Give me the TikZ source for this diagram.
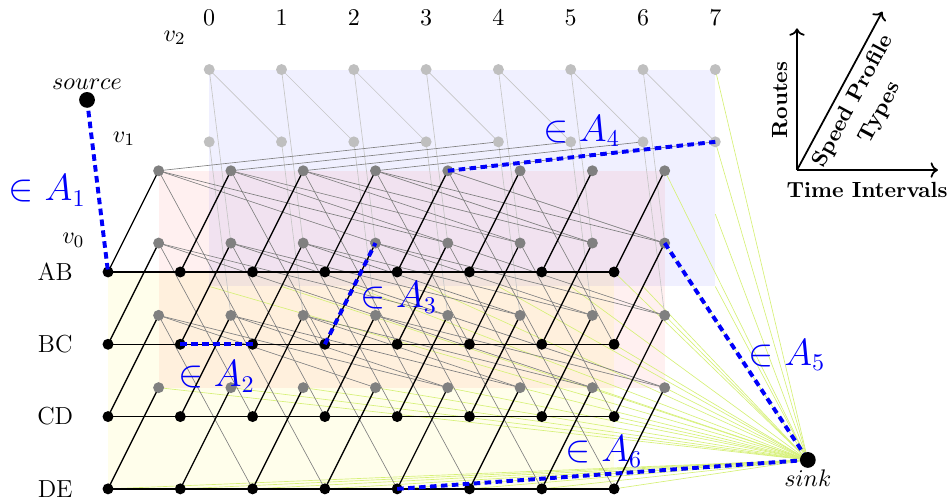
\documentclass[tikz,border=0pt]{standalone}
\usepackage{amssymb,amsmath}
\usepackage{tikz}
\usetikzlibrary{calc}
\usetikzlibrary{arrows.meta}
\definecolor{sinkline}{RGB}{214,240,120}
\definecolor{arcblue}{RGB}{0,0,250}

\begin{document}
\begin{tikzpicture}[x=1.16cm,y=1.16cm,
    every node/.style={font=\fontsize{11.25}{13.5}\selectfont},
    thinarc/.style={line width=0.3pt},
    dasharc/.style={line width=1.8pt,arcblue,dash pattern=on 3pt off 2pt},
    arclabel/.style={arcblue,font=\fontsize{16.3}{19}\selectfont},
    axislabel/.style={font=\normalsize\bfseries}]
   \useasboundingbox (-1.494,-3.181) rectangle (11.605,3.762);

   % knoten: route \rt, speed profile \sv, zeit \tm
   \foreach \rt in {0,...,3}
    \foreach \sv in {0,1,2}
     \foreach \tm in {0,...,7}
      \coordinate (n\rt\sv\tm) at ({\tm+0.7*\sv},{-\rt+1.4*\sv});
   \path
    (-0.29,2.38) coordinate (source)
    (9.68,-2.6) coordinate (sink);

    % ebenen
    \fill[blue,fill opacity=0.06] (n020) rectangle (n327);
    \fill[red,fill opacity=0.06] (n010) rectangle (n317);
    \fill[yellow,fill opacity=0.08] (n000) rectangle (n307);

    % kanten zur senke
    \foreach \sv in {0,1,2} {
     \foreach \tm in {0,...,7}
      \draw[thinarc,sinkline] (n3\sv\tm) -- (sink);
     \foreach \rt in {0,1,2}
      \draw[thinarc,sinkline] (n\rt\sv7) -- (sink);
    }

    % kanten aus v2
    \foreach \tm [evaluate=\tm as \nt using int(\tm+1)] in {0,...,6} {
     \draw[thinarc,gray!45] (n02\tm) -- (n12\nt);
     \draw[thinarc,gray!45] (n02\tm) -- (n11\nt);
     \draw[thinarc,gray!45] (n12\tm) -- (n21\nt);
    }

    % kanten aus v1
    \foreach \rt [evaluate=\rt as \nr using int(\rt+1)] in {0,1,2} {
     \foreach \tm [evaluate=\tm as \nt using int(\tm+2)] in {0,...,5}
      \draw[thinarc,gray] (n\rt1\tm) -- (n\nr0\nt);
     \foreach \tm [evaluate=\tm as \nt using int(\tm+3)] in {0,...,4}
      \draw[thinarc,gray] (n\rt1\tm) -- (n\nr1\nt);
     \foreach \tm [evaluate=\tm as \nt using int(\tm+4)] in {0,...,3}
      \draw[thinarc,gray] (n\rt1\tm) -- (n\nr1\nt);
    }
    \foreach \tm [evaluate=\tm as \nt using int(\tm+3)] in {0,...,4}
     \draw[thinarc,gray] (n01\tm) -- (n12\nt);

    % warten und beschleunigen in v0
    \foreach \rt in {0,...,3} {
     \draw[semithick] (n\rt00) -- (n\rt07);
     \foreach \tm in {0,...,7}
      \draw[semithick] (n\rt0\tm) -- (n\rt1\tm);
    }

    % punkte
    \foreach \rt in {0,1}
     \foreach \tm in {0,...,7}
      \fill[gray!50] (n\rt2\tm) circle (2.5pt);
    \foreach \rt in {0,...,3}
     \foreach \tm in {0,...,7} {
      \fill[gray] (n\rt1\tm) circle (2.5pt);
      \fill[black] (n\rt0\tm) circle (2.5pt);
     }

    % blaue kanten
    \draw[dasharc] (source) -- (n000);
    \draw[dasharc] (n101) -- (n102);
    \draw[dasharc] (n103) -- (n113);
    \draw[dasharc] (n014) -- (n127);
    \draw[dasharc] (n117) -- (sink);
    \draw[dasharc] (n304) -- (sink);

    \fill (source) circle (3.6pt);
    \fill (sink) circle (3.6pt);
    \node[above=1pt] (srclab) at (source) {$source$};
    \node[below=1pt] (sinklab) at (sink) {$sink$};

    % beschriftung
    \foreach \rt/\name in {0/AB,1/BC,2/CD,3/DE}
     \node (route\rt) at (-0.73,-\rt) {\name};
    \foreach \tm in {0,...,7}
     \node (time\tm) at ({\tm+1.4},3.51) {$\tm$};
    \foreach \sv in {0,1,2}
     \node (speed\sv) at ({-0.48+0.7*\sv},{0.44+1.4*\sv}) {$v_{\sv}$};

    \node[arclabel] (a1) at (-0.84,1.13) {$\in A_1$};
    \node[arclabel] (a2) at (1.50,-1.45) {$\in A_2$};
    \node[arclabel] (a3) at (4.02,-0.35) {$\in A_3$};
    \node[arclabel] (a4) at (6.55,1.95) {$\in A_4$};
    \node[arclabel] (a5) at (9.39,-1.15) {$\in A_5$};
    \node[arclabel] (a6) at (6.86,-2.48) {$\in A_6$};

    % achsen
    \path
     (9.53,1.41) coordinate (ax0)
     (9.53,3.37) coordinate (axR)
     (11.48,1.41) coordinate (axT)
     (10.71,3.60) coordinate (axS);
    \draw[thick,->] (ax0) -- (axR);
    \draw[thick,->] (ax0) -- (axT);
    \draw[thick,->] (ax0) -- (axS);
    \node[axislabel,rotate=90] (routes) at (9.29,2.38) {Routes};
    \node[axislabel,rotate=61.7] (speedp) at (10.31,2.36) {Speed Profile};
    \node[axislabel,rotate=61.7] (types) at (10.68,2.20) {Types};
    \node[axislabel] (timeint) at (10.50,1.13) {Time Intervals};
\end{tikzpicture}
\end{document}
